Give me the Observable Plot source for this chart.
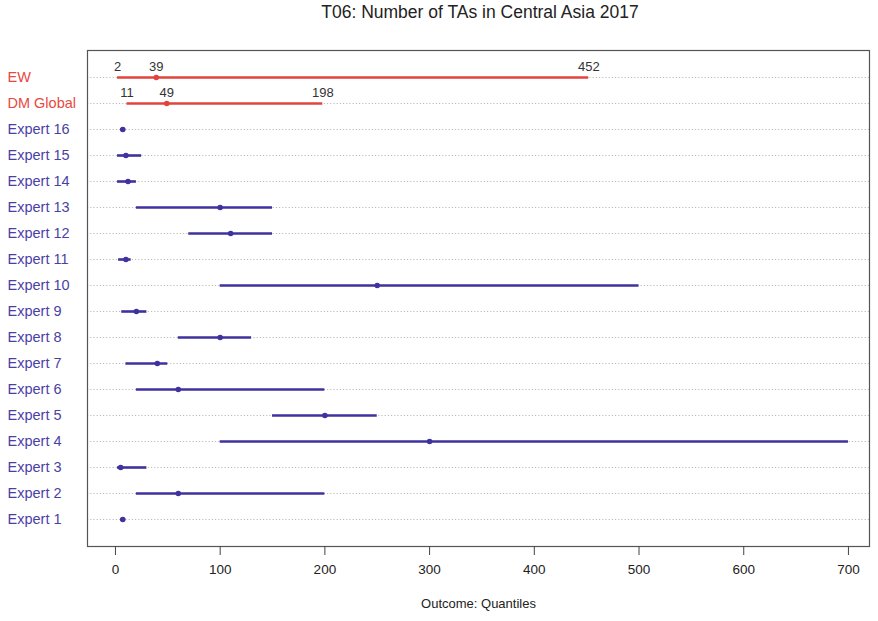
<!DOCTYPE html>
<html>
<head>
<meta charset="utf-8">
<script src="https://cdn.jsdelivr.net/npm/d3@7"></script>
<script src="https://cdn.jsdelivr.net/npm/@observablehq/plot@0.6"></script>
<style>
  body { margin: 0; background: #fff; font-family: "Liberation Sans", Arial, sans-serif; }
  #wrap { position: relative; width: 878px; height: 621px; }
  #title { position: absolute; top: 2px; left: 0; width: 960px; text-align: center;
           font-size: 17.5px; color: #222; }
</style>
</head>
<body>
<div id="wrap">
  <div id="title">T06: Number of TAs in Central Asia 2017</div>
</div>
<script>
// Row labels, top to bottom
const labels = ["EW", "DM Global", "Expert 16", "Expert 15", "Expert 14", "Expert 13",
  "Expert 12", "Expert 11", "Expert 10", "Expert 9", "Expert 8", "Expert 7",
  "Expert 6", "Expert 5", "Expert 4", "Expert 3", "Expert 2", "Expert 1"];
// 5%, 50% and 95% quantiles per row
const lows    = [2, 11, 5, 2, 2, 20, 70, 3, 100, 6, 60, 10, 20, 150, 100, 2, 20, 5];
const medians = [39, 49, 7, 10, 12, 100, 110, 10, 250, 20, 100, 40, 60, 200, 300, 5, 60, 7];
const highs   = [452, 198, 9, 25, 20, 150, 150, 15, 500, 30, 130, 50, 200, 250, 700, 30, 200, 9];
const xTicks = [0, 100, 200, 300, 400, 500, 600, 700];

const RED = "#e2443d", BLUE = "#3f329f";
const rows = labels.map((name, i) => ({
  name, lo: lows[i], med: medians[i], hi: highs[i],
  color: i < 2 ? RED : BLUE, labelColor: i < 2 ? "#e8483f" : "#4a3fa6", combined: i < 2
}));
const combined = rows.filter(d => d.combined);
const numLabels = combined.flatMap(d => [
  {name: d.name, v: d.lo}, {name: d.name, v: d.med}, {name: d.name, v: d.hi}
]);

const chart = Plot.plot({
  width: 878,
  height: 621,
  marginLeft: 87,
  marginRight: 9,
  marginTop: 50,
  marginBottom: 75,
  style: {fontFamily: "Liberation Sans, Arial, sans-serif", background: "transparent"},
  x: {domain: [-26.7, 720.1], ticks: xTicks, label: null},
  y: {type: "point", domain: labels, padding: 1, axis: null},
  marks: [
    Plot.ruleY(labels, {y: d => d, stroke: "#bcbcbc", strokeDasharray: "1.2,2", strokeWidth: 1}),
    Plot.ruleY(rows, {y: "name", x1: "lo", x2: "hi", stroke: "color", strokeWidth: 2.6}),
    Plot.dot(rows, {y: "name", x: "med", r: 2.8, fill: "color", stroke: "none"}),
    Plot.text(numLabels, {x: "v", y: "name", text: d => String(d.v), dy: -11,
      fontSize: 13, fill: "#333"}),
    Plot.text(rows, {y: "name", frameAnchor: "left", dx: -80, textAnchor: "start",
      text: "name", fill: "labelColor", fontSize: 14.5}),
    Plot.frame({stroke: "#555", strokeWidth: 1.2}),
    Plot.axisX(xTicks, {tickSize: 9, tickPadding: 9, fontSize: 13.5, fill: "#222",
      stroke: "#444", label: null}),
    Plot.text(["Outcome: Quantiles"], {frameAnchor: "bottom", dy: 61,
      fontSize: 13, fill: "#222"})
  ]
});
document.getElementById("wrap").appendChild(chart);
chart.style.position = "absolute";
chart.style.top = "0";
chart.style.left = "0";
</script>
</body>
</html>
